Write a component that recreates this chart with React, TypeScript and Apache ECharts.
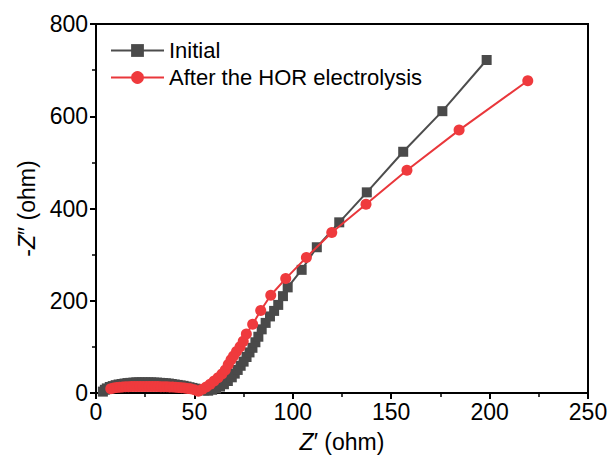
import React, { useEffect, useRef } from "react";
import * as echarts from "echarts";

// Initial (gray squares): Z' values and -Z'' values
const initialZre = [
  3.5, 4.5, 5.5, 7, 8.5, 10, 11.5, 13, 14.5, 16, 17.5, 19, 20.5, 22, 23.5, 25, 26.5, 28, 29.5, 31,
  32.5, 34, 35.5, 37, 38.5, 40, 41.5, 43, 44.5, 46, 47.5, 49, 50.5, 52, 53.5, 55,
  57, 59, 61, 63, 65, 67, 69, 70.5, 72, 73.5, 75, 76.5, 78, 79.5, 81, 82.5, 84.2, 86.2, 88.4, 90.5,
  92.6, 95, 97.4, 104.5, 112.2, 123.6, 137.6, 156.1, 176, 198.5,
];
const initialZim = [
  3, 7, 10, 13, 15, 17, 18.5, 19.5, 20.5, 21.5, 22, 22.5, 23, 23, 23, 23, 23, 23, 22.5, 22.5,
  22, 21.5, 21, 20.5, 19.5, 18.5, 17.5, 16.5, 15.5, 14, 12.5, 11, 9.5, 8, 6.5, 5.5,
  5, 7, 10, 14, 19, 26, 34, 42, 50, 59, 68, 78, 88, 98, 110, 122, 138, 152, 166, 178,
  191, 210, 229, 267, 316, 370, 435, 523, 611, 722,
];

// After the HOR electrolysis (red circles)
const horZre = [
  7.5, 9, 10.5, 12, 13.5, 15, 16.5, 18, 19.5, 21, 22.5, 24, 25.5, 27, 28.5, 30, 31.5, 33, 34.5, 36,
  37.5, 39, 40.5, 42, 43.5, 45, 46.5, 48, 50,
  52, 54, 56, 58, 60, 62, 64, 65.7, 67.2, 68.6, 69.9, 71.4, 73.2, 74.8, 76.4, 79.6, 83.7, 88.8,
  96.4, 106.9, 119.8, 137.2, 158, 184.5, 219.4,
];
const horZim = [
  9, 11, 12, 12.5, 13, 13.5, 13.5, 14, 14, 14, 14, 14, 14, 14, 14, 14, 14, 13.5, 13.5, 13.5,
  13, 13, 12.5, 12, 11.5, 11, 10, 9, 7,
  4, 8, 13, 19, 26, 33, 41, 50, 62, 72, 80, 90, 100, 112, 128, 149, 179, 212,
  248, 294, 348, 409, 483, 570, 677,
];

const seriesNames = ["Initial", "After the HOR electrolysis"];
const xTicks = { min: 0, max: 250, interval: 50 };
const yTicks = { min: 0, max: 800, interval: 200 };

const pairs = (xs: number[], ys: number[]) => xs.map((x, i) => [x, ys[i]]);

export default function App() {
  const ref = useRef<HTMLDivElement>(null);
  useEffect(() => {
    if (!ref.current) return;
    const chart = echarts.init(ref.current, undefined, { renderer: "svg" });
    const font = "'Liberation Sans', Arial, sans-serif";
    chart.setOption({
      animation: false,
      backgroundColor: "#ffffff",
      grid: {
        left: 96,
        top: 24,
        width: 492,
        height: 369,
        show: true,
        borderColor: "#000",
        borderWidth: 2,
        backgroundColor: "transparent",
      },
      legend: {
        orient: "vertical",
        left: 105,
        top: 34,
        itemWidth: 53,
        itemHeight: 16,
        itemGap: 4,
        textStyle: { fontSize: 22, color: "#000", fontFamily: font, lineHeight: 23 },
        data: seriesNames,
      },
      xAxis: {
        type: "value",
        min: xTicks.min,
        max: xTicks.max,
        interval: xTicks.interval,
        name: "{i|Z}′ (ohm)",
        nameLocation: "middle",
        nameGap: 37,
        nameTextStyle: {
          fontSize: 23,
          color: "#000",
          fontFamily: font,
          rich: { i: { fontStyle: "italic", fontSize: 23, fontFamily: font, color: "#000" } },
        },
        axisLine: { show: true, lineStyle: { color: "#000", width: 2 } },
        axisTick: { show: true, inside: false, length: 6, lineStyle: { color: "#000", width: 2 } },
        minorTick: { show: true, splitNumber: 2, length: 4, lineStyle: { color: "#000", width: 1.5 } },
        axisLabel: { fontSize: 23, color: "#000", fontFamily: font, margin: 7 },
        splitLine: { show: false },
      },
      yAxis: {
        type: "value",
        min: yTicks.min,
        max: yTicks.max,
        interval: yTicks.interval,
        name: "-{i|Z}″ (ohm)",
        nameLocation: "middle",
        nameGap: 38,
        nameRotate: 90,
        nameTextStyle: {
          fontSize: 23,
          color: "#000",
          fontFamily: font,
          rich: { i: { fontStyle: "italic", fontSize: 23, fontFamily: font, color: "#000" } },
        },
        axisLine: { show: true, lineStyle: { color: "#000", width: 2 } },
        axisTick: { show: true, inside: false, length: 6, lineStyle: { color: "#000", width: 2 } },
        minorTick: { show: true, splitNumber: 2, length: 4, lineStyle: { color: "#000", width: 1.5 } },
        axisLabel: { fontSize: 23, color: "#000", fontFamily: font, margin: 8 },
        splitLine: { show: false },
      },
      series: [
        {
          name: seriesNames[0],
          type: "line",
          data: pairs(initialZre, initialZim),
          symbol: "rect",
          symbolSize: 10,
          itemStyle: { color: "#4a4a4a" },
          lineStyle: { color: "#4d4d4d", width: 2 },
          z: 2,
        },
        {
          name: seriesNames[1],
          type: "line",
          data: pairs(horZre, horZim),
          symbol: "circle",
          symbolSize: 11,
          itemStyle: { color: "#ef3a3d" },
          lineStyle: { color: "#e9373b", width: 2 },
          z: 3,
        },
      ],
    });
    return () => chart.dispose();
  }, []);
  return (
    <div
      ref={ref}
      style={{ position: "fixed", left: 0, top: 0, width: 612, height: 472, background: "#fff" }}
    />
  );
}
